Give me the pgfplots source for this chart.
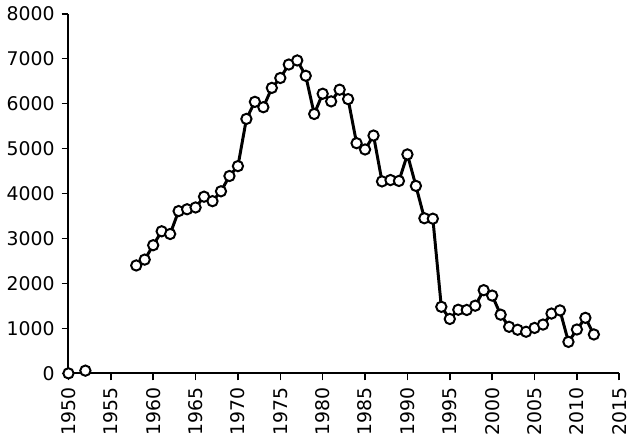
\documentclass[border=0pt]{standalone}
\usepackage{pgfplots}
\pgfplotsset{compat=1.18}
\usepackage{fontspec}
\setmainfont{DejaVu Sans}

\pgfplotstableread{
year value
1950 0
1951 nan
1952 60
1953 nan
1958 2400
1959 2530
1960 2850
1961 3160
1962 3100
1963 3610
1964 3650
1965 3690
1966 3930
1967 3830
1968 4050
1969 4390
1970 4610
1971 5660
1972 6040
1973 5920
1974 6350
1975 6570
1976 6870
1977 6960
1978 6620
1979 5770
1980 6220
1981 6050
1982 6310
1983 6100
1984 5120
1985 4980
1986 5290
1987 4270
1988 4300
1989 4280
1990 4870
1991 4170
1992 3450
1993 3440
1994 1480
1995 1210
1996 1415
1997 1410
1998 1505
1999 1850
2000 1730
2001 1305
2002 1035
2003 970
2004 925
2005 1010
2006 1085
2007 1330
2008 1400
2009 700
2010 975
2011 1235
2012 865
}\datatable

\begin{document}
\begin{tikzpicture}
\begin{axis}[
    scale only axis,
    width=278pt, height=181.5pt,
    xmin=1950, xmax=2015,
    ymin=0, ymax=8000,
    xtick={1950,1955,...,2015},
    ytick={0,1000,...,8000},
    axis lines=left,
    axis line style={-, line width=1pt},
    tick align=outside,
    major tick length=3.5pt,
    tick style={line width=0.8pt, black},
    x tick label style={rotate=90, anchor=east},
    tick label style={font=\fontsize{9.5}{11}\selectfont},
    /pgf/number format/1000 sep={},
    /pgf/number format/assume math mode=true,
    unbounded coords=jump,
    clip=false,
  ]
  \addplot[black, line width=1.5pt, mark=*, mark size=2.6pt,
    mark options={fill=white, draw=black, line width=1pt}]
    table[x=year, y=value] {\datatable};
\end{axis}
\end{tikzpicture}
\end{document}
